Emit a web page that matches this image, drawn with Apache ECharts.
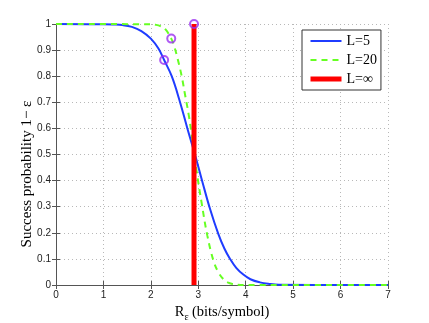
<!DOCTYPE html>
<html>
<head>
<meta charset="utf-8">
<script src="https://cdn.jsdelivr.net/npm/echarts@6/dist/echarts.min.js"></script>
<style>
  html, body { margin: 0; padding: 0; background: #fff; }
  #chart { width: 429px; height: 323px; }
</style>
</head>
<body>
<div id="chart"></div>
<script>
// L=5 curve
const blueX = [0, 1.0, 1.2, 1.4, 1.6, 1.8, 2.0, 2.16, 2.28, 2.44, 2.6, 2.77, 2.93, 3.09, 3.25, 3.42, 3.55, 3.67, 3.8, 3.95, 4.1, 4.3, 4.5, 4.7, 7]
const blueY = [1, 0.999, 0.998, 0.996, 0.989, 0.973, 0.944, 0.906, 0.862, 0.80, 0.71, 0.60, 0.50, 0.393, 0.29, 0.197, 0.14, 0.10, 0.066, 0.04, 0.022, 0.01, 0.004, 0.001, 0]

// L=20 curve
const greenX = [0, 2.0, 2.1, 2.2, 2.3, 2.43, 2.5, 2.56, 2.65, 2.72, 2.8, 2.88, 2.97, 3.07, 3.19, 3.32, 3.42, 3.53, 3.62, 3.72, 3.9, 7]
const greenY = [1, 0.999, 0.997, 0.992, 0.981, 0.944, 0.91, 0.87, 0.80, 0.73, 0.65, 0.55, 0.43, 0.315, 0.19, 0.093, 0.05, 0.022, 0.01, 0.004, 0, 0]

// L=inf step
const redX = [2.91, 2.91]
const redY = [0, 1]

// marked points
const markX = [2.28, 2.43, 2.91]
const markY = [0.862, 0.944, 1]

const legendNames = ['L=5', 'L=20', 'L=∞']

const zip = (xs, ys) => xs.map((x, i) => [x, ys[i]])

let chart = echarts.init(document.getElementById('chart'))

const axisLine = { show: true, lineStyle: { color: '#555', width: 1 } }
const tick = { show: true, inside: true, length: 4, lineStyle: { color: '#555' } }
const split = { show: true, lineStyle: { color: '#b8b8b8', type: [1, 3], width: 1 } }
const tickLabel = { fontFamily: 'Liberation Sans', fontSize: 10, color: '#222' }

chart.setOption({
  animation: false,
  grid: { left: 56, right: 41, top: 24, bottom: 38, containLabel: false, outerBoundsMode: 'none' },
  legend: {
    data: [
      { name: legendNames[0] },
      { name: legendNames[1] },
      { name: legendNames[2], lineStyle: { width: 5 } }
    ],
    orient: 'vertical',
    left: 302,
    top: 30,
    padding: [4, 4, 4, 6],
    itemGap: 5,
    itemWidth: 31,
    itemHeight: 14,
    itemStyle: { opacity: 0 },
    backgroundColor: '#fff',
    borderColor: '#333',
    borderWidth: 1,
    borderRadius: 0,
    textStyle: { fontFamily: 'Liberation Serif', fontSize: 14, color: '#000' }
  },
  graphic: [{
    type: 'text',
    x: 27, y: 174,
    rotation: Math.PI / 2,
    style: {
      text: 'Success probability 1− ε',
      font: '15px "Liberation Serif"',
      fill: '#000',
      align: 'center',
      verticalAlign: 'middle'
    }
  }],
  xAxis: [
    {
      type: 'value', min: 0, max: 7, interval: 1,
      axisLine: axisLine, axisTick: tick, splitLine: split,
      axisLabel: Object.assign({ margin: 5 }, tickLabel),
      name: '{a|R}{b|ε} {a|(bits/symbol)}',
      nameLocation: 'middle',
      nameGap: 7,
      nameTextStyle: {
        rich: {
          a: { fontFamily: 'Liberation Serif', fontSize: 14.5, color: '#000' },
          b: { fontFamily: 'Liberation Serif', fontSize: 10, color: '#000', padding: [10, 0, 0, 0] }
        }
      }
    },
    {
      type: 'value', position: 'top', min: 0, max: 7, interval: 1,
      axisLine: axisLine, axisTick: tick, splitLine: { show: false }, axisLabel: { show: false }
    }
  ],
  yAxis: [
    {
      type: 'value', min: 0, max: 1, interval: 0.1,
      axisLine: axisLine, axisTick: tick, splitLine: split,
      axisLabel: Object.assign({ margin: 5 }, tickLabel)
    },
    {
      type: 'value', position: 'right', min: 0, max: 1, interval: 0.1,
      axisLine: axisLine, axisTick: tick, splitLine: { show: false }, axisLabel: { show: false }
    }
  ],
  series: [
    {
      name: 'L=5', type: 'line', data: zip(blueX, blueY),
      smooth: 0.4, symbol: 'none',
      lineStyle: { color: '#1f3cff', width: 2 }, itemStyle: { color: '#1f3cff' }
    },
    {
      name: 'L=20', type: 'line', data: zip(greenX, greenY),
      smooth: 0.4, symbol: 'none',
      lineStyle: { color: '#66ff22', width: 2, type: [6, 5] }, itemStyle: { color: '#66ff22' }
    },
    {
      name: 'L=∞', type: 'line', data: zip(redX, redY), symbol: 'none',
      lineStyle: { color: '#ff0000', width: 5 }, itemStyle: { color: '#ff0000' }
    },
    {
      name: 'marks', type: 'scatter', data: zip(markX, markY),
      symbol: 'circle', symbolSize: 8,
      itemStyle: { color: 'rgba(0,0,0,0)', borderColor: '#9a2ff0', borderWidth: 2 },
      z: 5
    }
  ]
})
</script>
</body>
</html>
